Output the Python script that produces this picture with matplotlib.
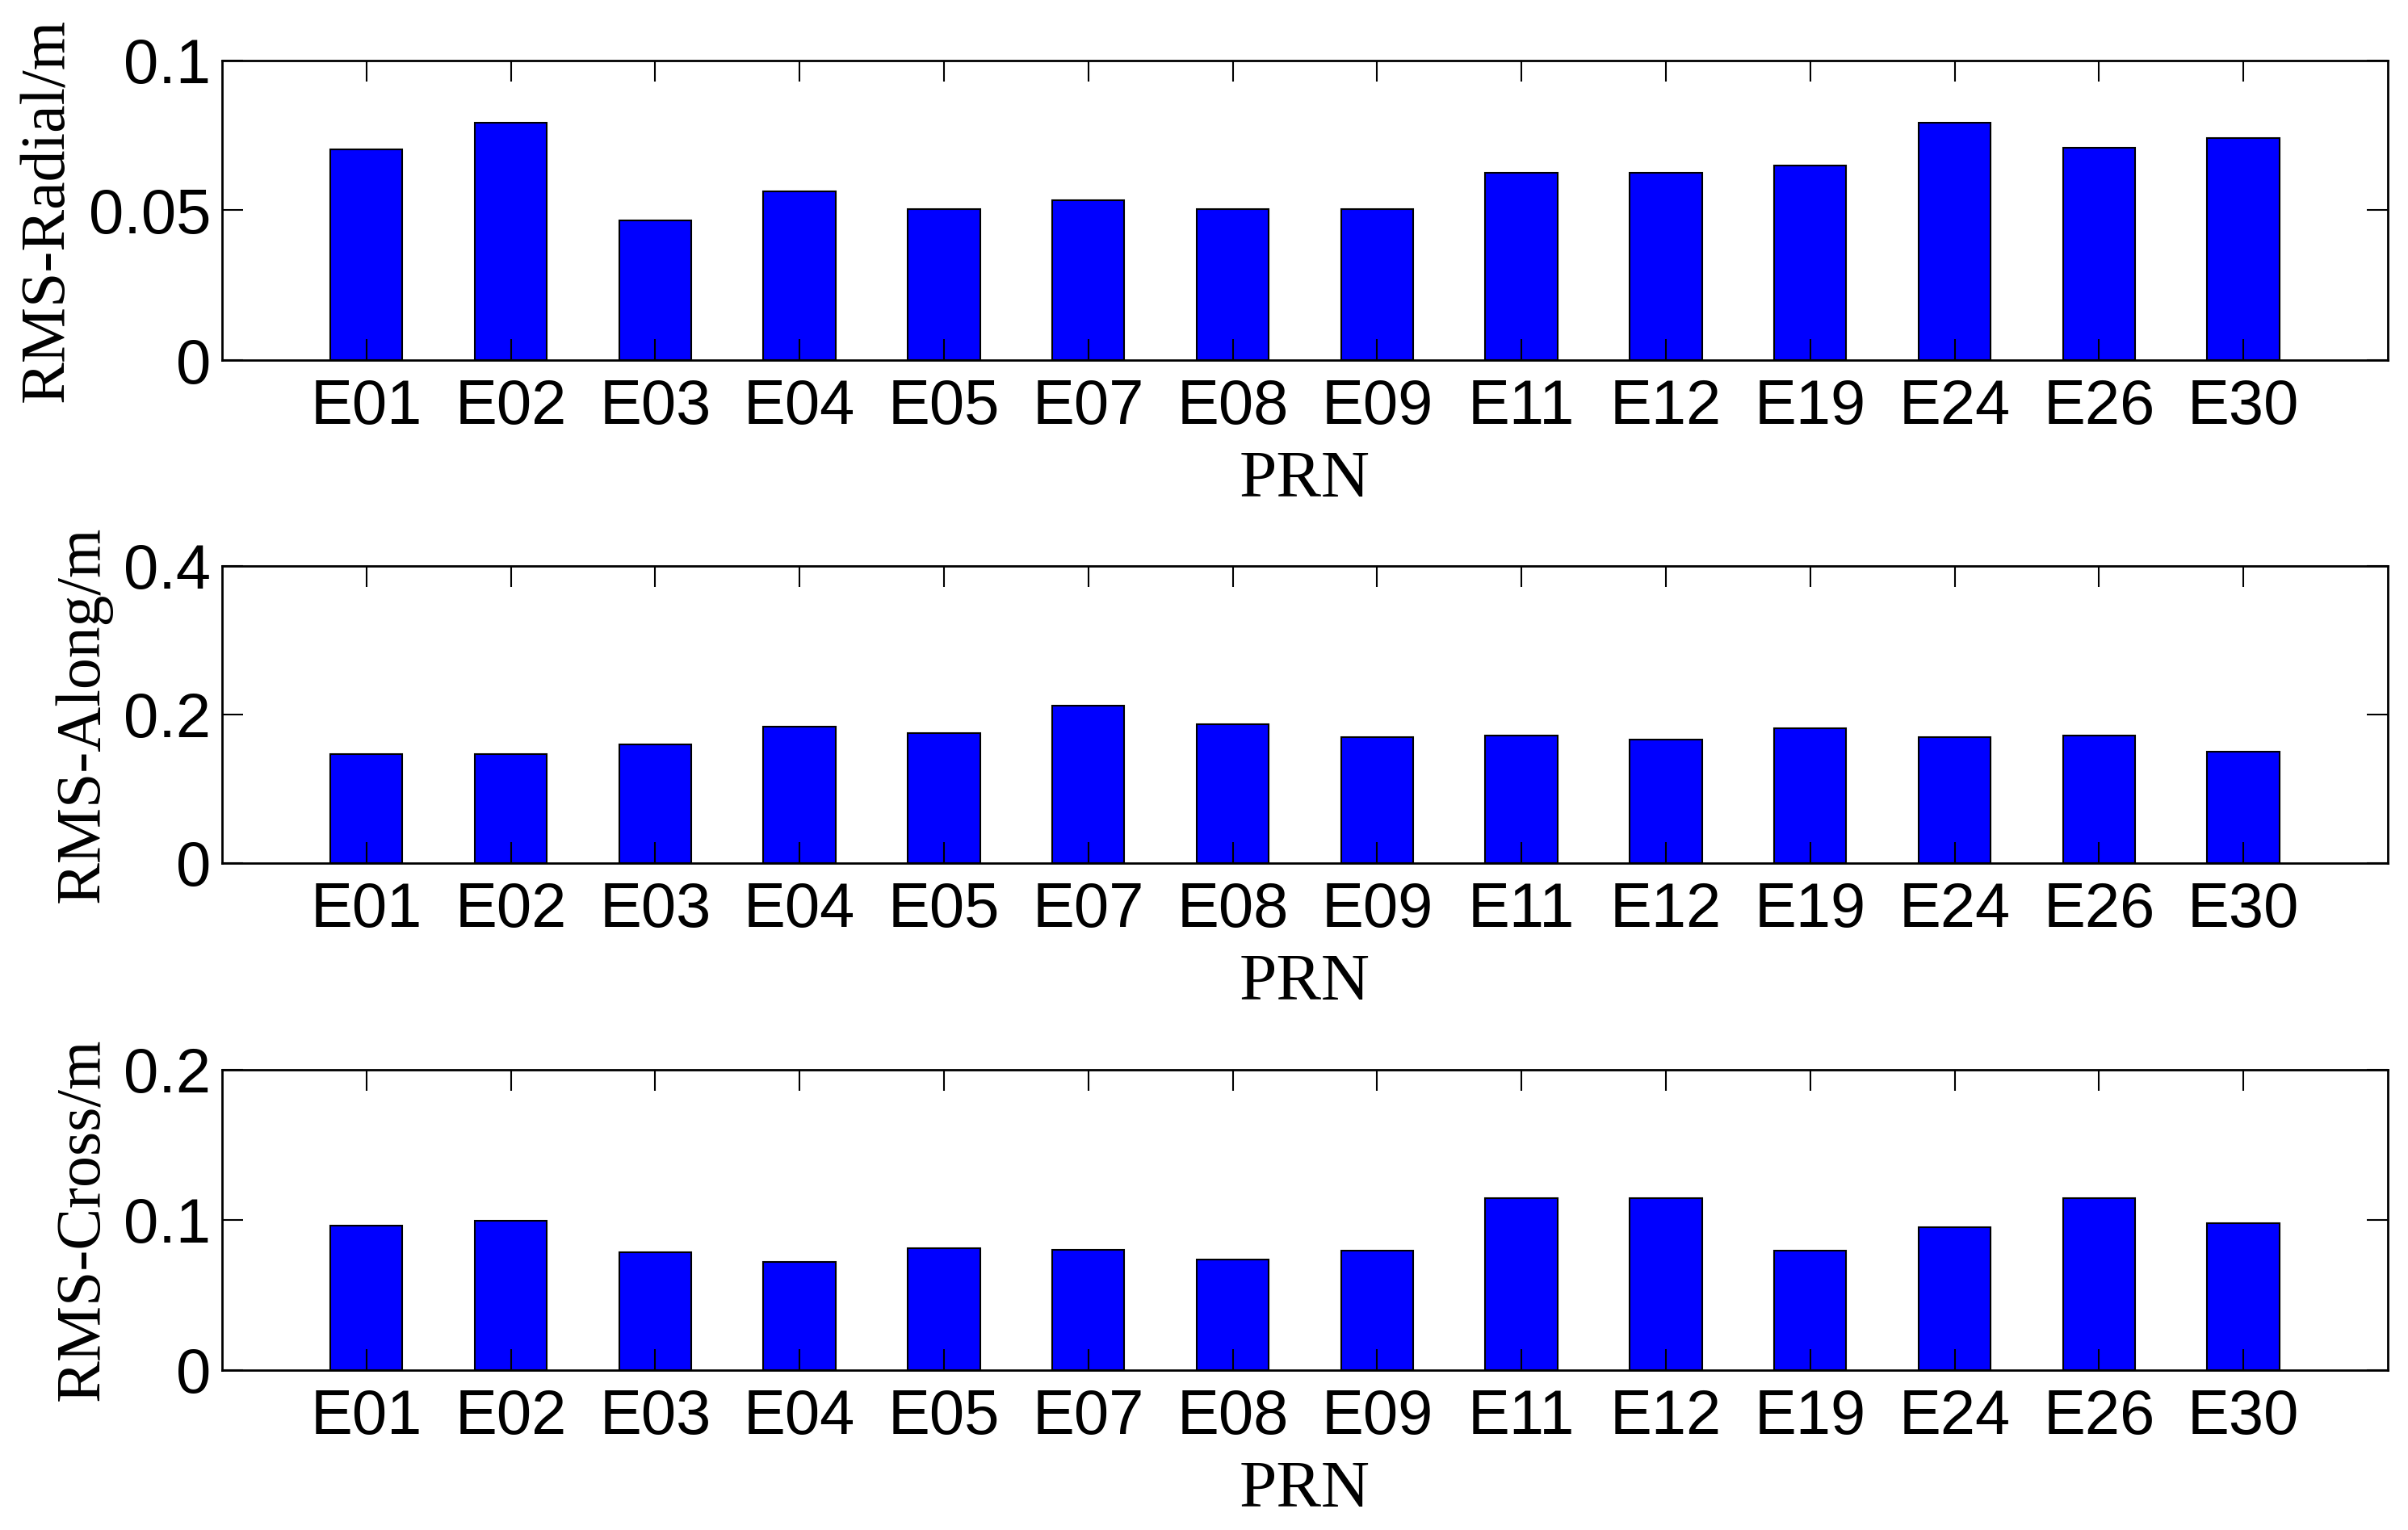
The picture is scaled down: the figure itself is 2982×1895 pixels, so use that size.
import matplotlib
matplotlib.use("Agg")
import matplotlib.pyplot as plt
from matplotlib import font_manager
from matplotlib.ticker import FormatStrFormatter

prn = ["E01", "E02", "E03", "E04", "E05", "E07", "E08",
       "E09", "E11", "E12", "E19", "E24", "E26", "E30"]

rms_radial = [0.0702, 0.0793, 0.0466, 0.0564, 0.0504, 0.0534, 0.0504,
              0.0504, 0.0626, 0.0626, 0.0649, 0.0793, 0.0709, 0.0741]
rms_along = [0.147, 0.147, 0.160, 0.184, 0.175, 0.212, 0.187,
             0.169, 0.172, 0.166, 0.181, 0.169, 0.172, 0.150]
rms_cross = [0.0962, 0.0995, 0.0782, 0.0720, 0.0812, 0.0797, 0.0733,
             0.0795, 0.1145, 0.1145, 0.0795, 0.0947, 0.1145, 0.0977]

panels = [
    (rms_radial, "RMS-Radial/m", [0, 0.05, 0.1]),
    (rms_along, "RMS-Along/m", [0, 0.2, 0.4]),
    (rms_cross, "RMS-Cross/m", [0, 0.1, 0.2]),
]

# narrow sans if it is there, otherwise plain Liberation Sans
names = {f.name for f in font_manager.fontManager.ttflist}
if "Liberation Sans Narrow" in names:
    tick_font, tick_size = "Liberation Sans Narrow", 62
else:
    tick_font, tick_size = "Liberation Sans", 56
print(tick_font)

fig = plt.figure(figsize=(29.82, 18.95), dpi=100)

boxes = [
    [0.0922, 0.7646, 0.8994, 0.1959],
    [0.0922, 0.4359, 0.8994, 0.1944],
    [0.0922, 0.1047, 0.8994, 0.1963],
]

x = list(range(1, len(prn) + 1))

for (vals, ylab, yt), box in zip(panels, boxes):
    ax = fig.add_axes(box)
    ax.bar(x, vals, width=0.5, color="#0000ff", edgecolor="black", linewidth=1.5)
    ax.set_xlim(0, 15)
    ax.set_ylim(yt[0], yt[-1])
    ax.set_xticks(x)
    ax.set_xticklabels(prn, fontfamily=tick_font, fontsize=tick_size)
    ax.set_yticks(yt)
    ax.yaxis.set_major_formatter(FormatStrFormatter("%g"))
    for lab in ax.get_yticklabels():
        lab.set_fontfamily(tick_font)
        lab.set_fontsize(tick_size)
    ax.tick_params(direction="in", length=19, width=1.5, top=True, right=True)
    ax.tick_params(axis="x", pad=16)
    ax.tick_params(axis="y", pad=10)
    for sp in ax.spines.values():
        sp.set_linewidth(2)
    ax.set_ylabel(ylab, fontfamily="Liberation Serif", fontsize=56, labelpad=10)
    ax.set_xlabel("PRN", fontfamily="Liberation Serif", fontsize=60, labelpad=12)

fig.savefig("out.png", dpi=100)
